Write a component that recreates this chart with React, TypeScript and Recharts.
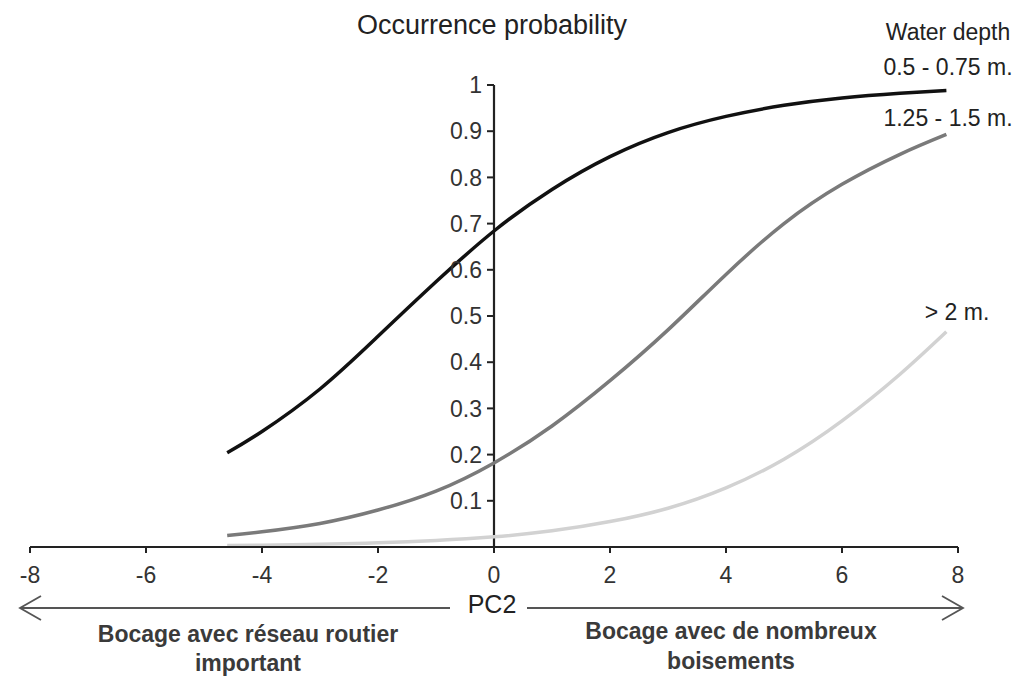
import React from 'react';
import { LineChart, Line, XAxis, YAxis, ReferenceLine } from 'recharts';

// PC2 positions
const pcValues = [-4.6, -4, -3, -2, -1, 0, 1, 2, 3, 4, 5, 6, 7, 7.8];
// Occurrence probability per water depth class
const depthShallow = [0.204, 0.25, 0.342, 0.456, 0.574, 0.684, 0.774, 0.845, 0.897, 0.932, 0.956, 0.972, 0.982, 0.988];
const depthMedium = [0.025, 0.033, 0.051, 0.08, 0.121, 0.182, 0.262, 0.36, 0.47, 0.59, 0.7, 0.785, 0.85, 0.893];
const depthDeep = [0.003, 0.004, 0.006, 0.009, 0.014, 0.022, 0.035, 0.055, 0.084, 0.128, 0.19, 0.273, 0.374, 0.466];

const xTicks = [-8, -6, -4, -2, 0, 2, 4, 6, 8];
const yTicks = [0.1, 0.2, 0.3, 0.4, 0.5, 0.6, 0.7, 0.8, 0.9, 1];
const seriesLabels = ['0.5 - 0.75 m.', '1.25 - 1.5 m.', '> 2 m.'];

const data = pcValues.map((x, i) => ({
  x,
  shallow: depthShallow[i],
  medium: depthMedium[i],
  deep: depthDeep[i],
}));

const W = 1022;
const H = 680;
const M = { top: 85, right: 64, left: 29, bottom: 0 };
const Y_AXIS_W = 1;
const X_AXIS_H = 133;
const PLOT_LEFT = M.left + Y_AXIS_W;
const PLOT_W = W - PLOT_LEFT - M.right;
const X_MIN = -8;
const X_MAX = 8;
const AXIS_X = PLOT_LEFT + (PLOT_W * (0 - X_MIN)) / (X_MAX - X_MIN);

const FONT = '"Liberation Sans", Arial, Helvetica, sans-serif';

const renderYTick = (props: any) => {
  const { y, payload, index } = props;
  return (
    <g key={`yt-${index}`}>
      <line x1={AXIS_X - 7} x2={AXIS_X} y1={y} y2={y} stroke="#222" strokeWidth={2} />
      <text
        x={AXIS_X - 12}
        y={y}
        dy="0.36em"
        textAnchor="end"
        fontSize={23}
        fill="#333"
        fontFamily={FONT}
      >
        {payload.value}
      </text>
    </g>
  );
};

export default function App() {
  return (
    <div style={{ position: 'absolute', left: 0, top: 0, width: W, height: H, background: '#fff', fontFamily: FONT }}>
      <LineChart width={W} height={H} data={data} margin={M}>
        <XAxis
          dataKey="x"
          type="number"
          domain={[X_MIN, X_MAX]}
          ticks={xTicks}
          height={X_AXIS_H}
          axisLine={{ stroke: '#222', strokeWidth: 2 }}
          tickLine={{ stroke: '#222', strokeWidth: 2 }}
          tickSize={6}
          tickMargin={14}
          tick={{ fill: '#333', fontSize: 23, fontFamily: FONT }}
          interval={0}
        />
        <YAxis
          type="number"
          domain={[0, 1]}
          ticks={yTicks}
          width={Y_AXIS_W}
          axisLine={false}
          tickLine={false}
          tick={renderYTick}
          interval={0}
        />
        <ReferenceLine x={0} stroke="#222" strokeWidth={2.2} />
        <Line type="natural" dataKey="deep" stroke="#d2d2d2" strokeWidth={3.5} dot={false} isAnimationActive={false} />
        <Line type="natural" dataKey="medium" stroke="#7a7a7a" strokeWidth={3.5} dot={false} isAnimationActive={false} />
        <Line type="natural" dataKey="shallow" stroke="#111" strokeWidth={3.5} dot={false} isAnimationActive={false} />
      </LineChart>
      <svg
        width={W}
        height={H}
        style={{ position: 'absolute', left: 0, top: 0, pointerEvents: 'none' }}
        fontFamily={FONT}
      >
        <text x={492} y={34} textAnchor="middle" fontSize={27} fill="#222">Occurrence probability</text>
        <text x={948} y={40} textAnchor="middle" fontSize={23} fill="#222">Water depth</text>
        <text x={948} y={75} textAnchor="middle" fontSize={23} fill="#222">{seriesLabels[0]}</text>
        <text x={948} y={126} textAnchor="middle" fontSize={23} fill="#222">{seriesLabels[1]}</text>
        <text x={957} y={320} textAnchor="middle" fontSize={23} fill="#222">{seriesLabels[2]}</text>

        <line x1={20} y1={608} x2={450} y2={608} stroke="#555" strokeWidth={1.8} />
        <polyline points="41,596 20,608 41,620" fill="none" stroke="#555" strokeWidth={1.8} />
        <text x={492} y={613} textAnchor="middle" fontSize={25} fill="#222">PC2</text>
        <line x1={527} y1={608} x2={963} y2={608} stroke="#555" strokeWidth={1.8} />
        <polyline points="942,596 963,608 942,620" fill="none" stroke="#555" strokeWidth={1.8} />

        <text x={248} y={642} textAnchor="middle" fontSize={23} fontWeight="bold" fill="#3a3a3a">Bocage avec réseau routier</text>
        <text x={248} y={671} textAnchor="middle" fontSize={23} fontWeight="bold" fill="#3a3a3a">important</text>
        <text x={731} y={639} textAnchor="middle" fontSize={23} fontWeight="bold" fill="#3a3a3a">Bocage avec de nombreux</text>
        <text x={731} y={669} textAnchor="middle" fontSize={23} fontWeight="bold" fill="#3a3a3a">boisements</text>
      </svg>
    </div>
  );
}
